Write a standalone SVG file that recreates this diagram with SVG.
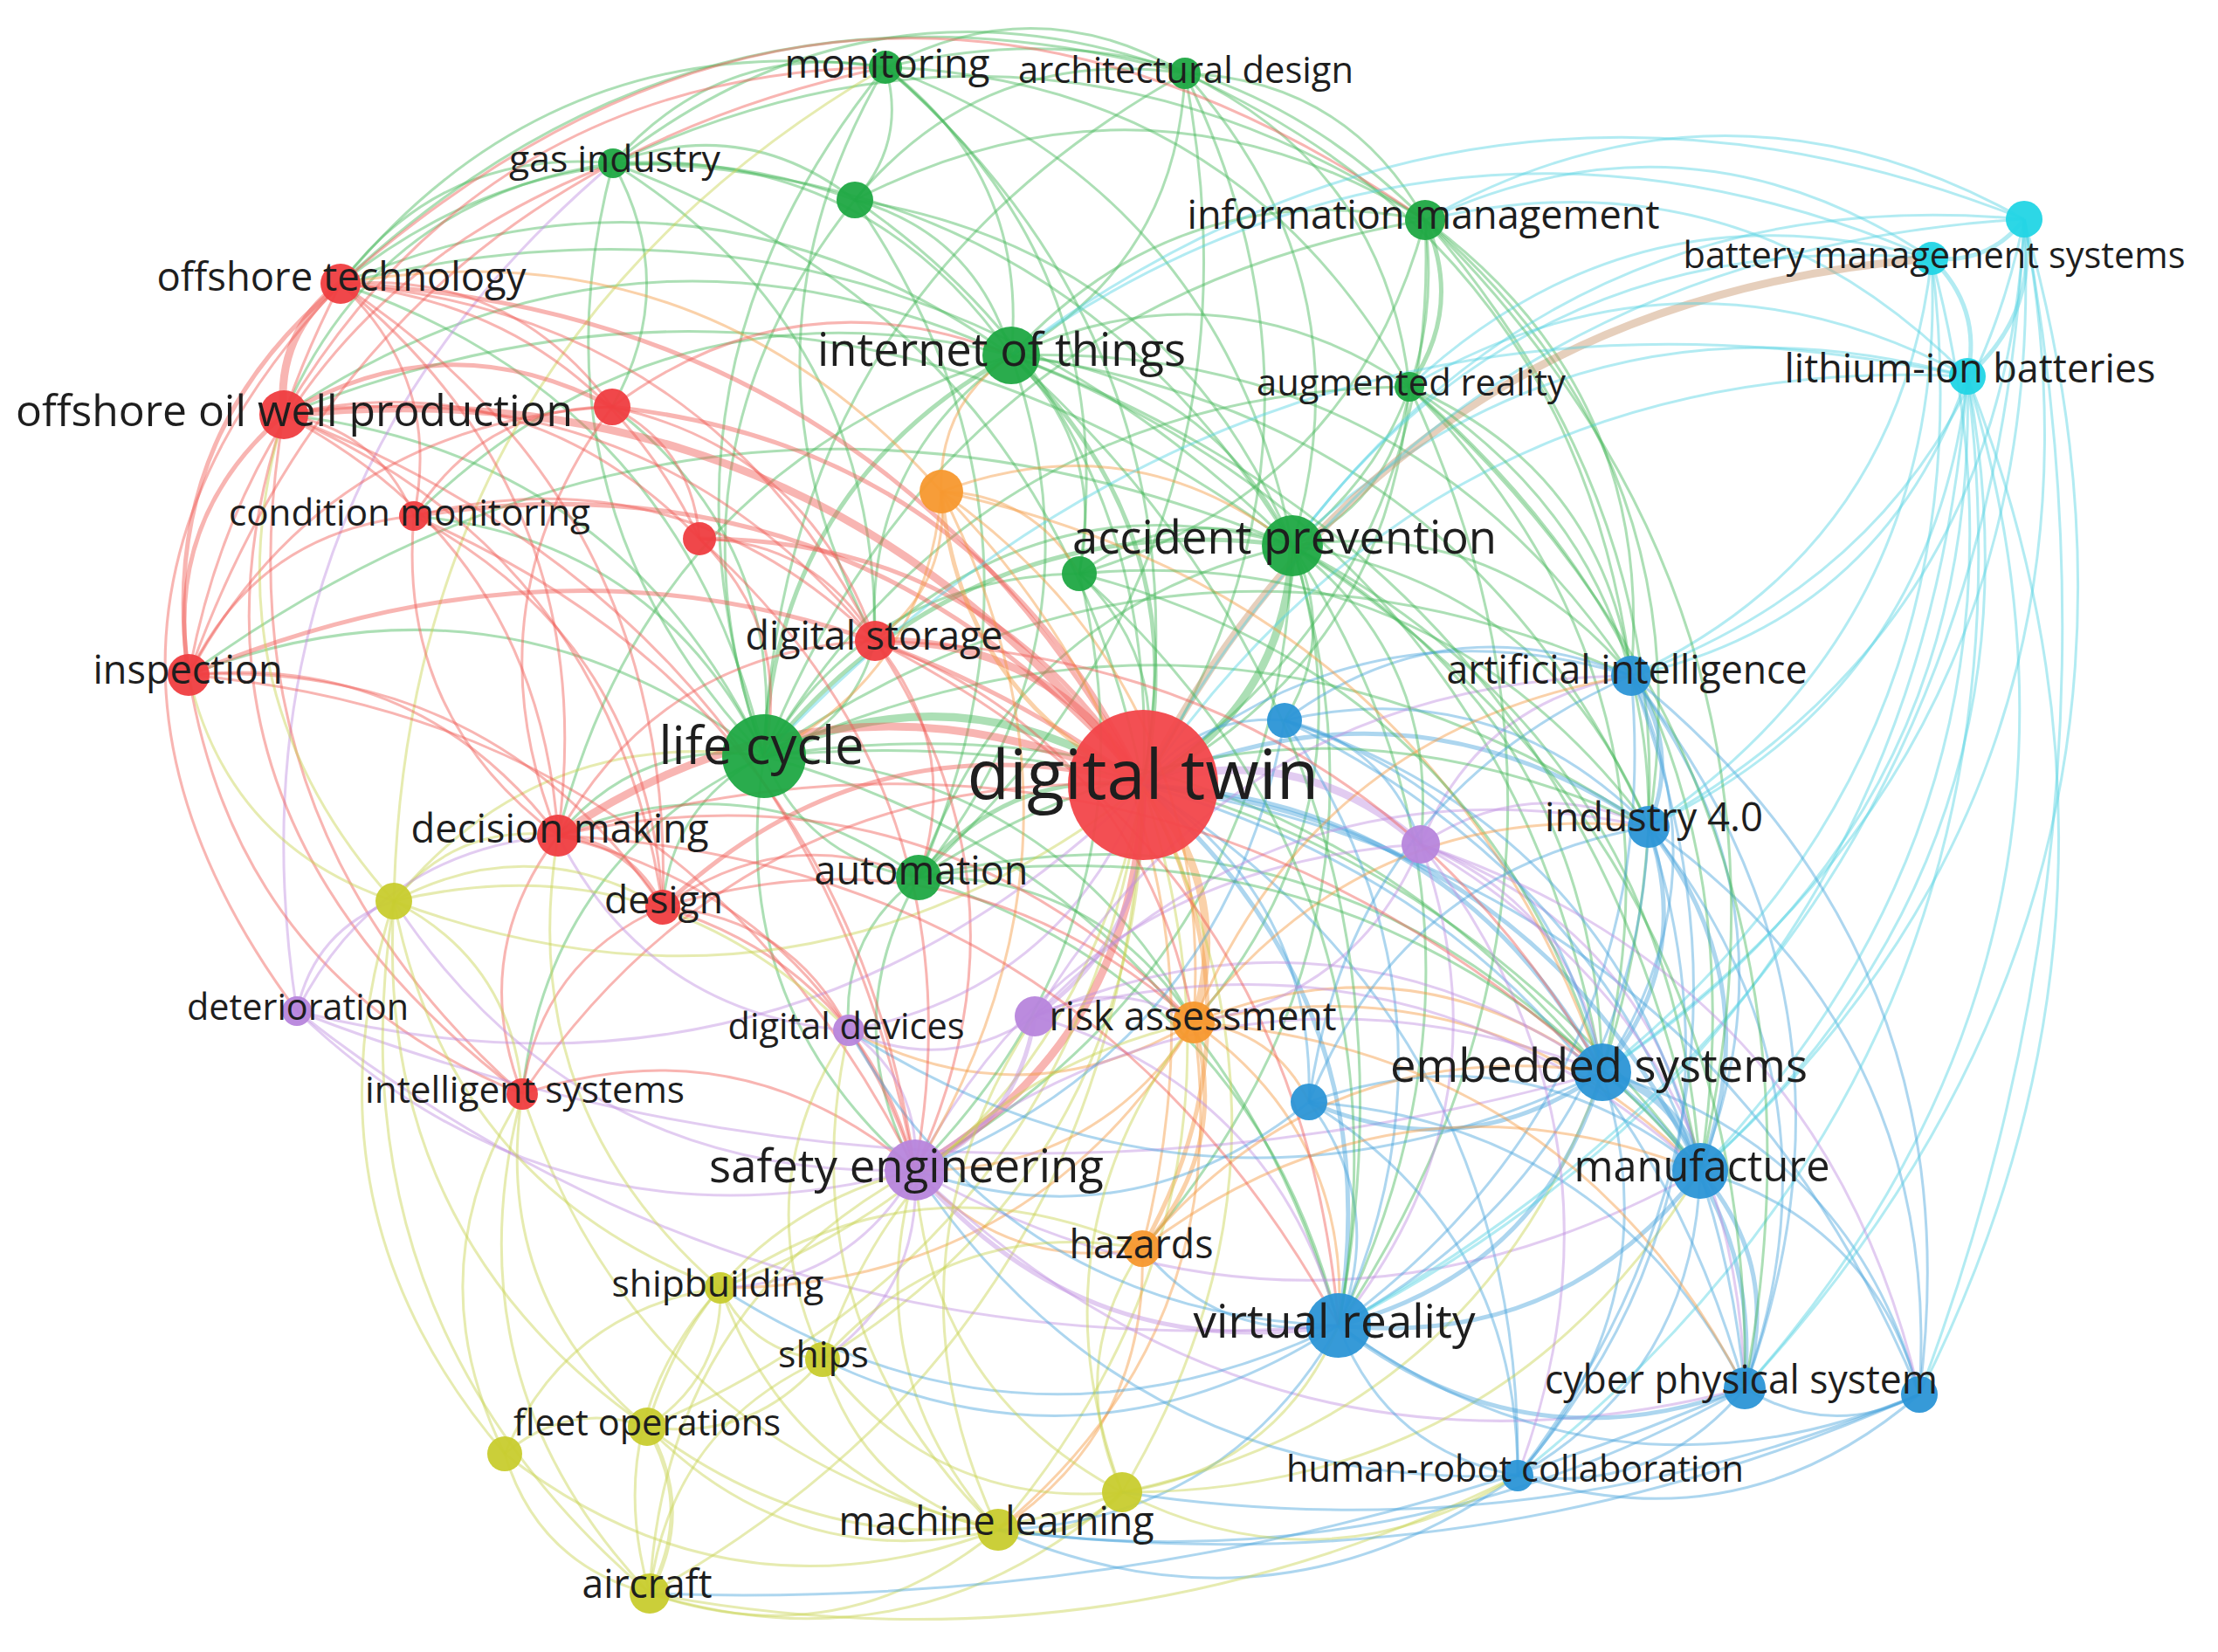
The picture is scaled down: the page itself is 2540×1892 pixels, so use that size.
<svg xmlns="http://www.w3.org/2000/svg" xmlns:xlink="http://www.w3.org/1999/xlink" width="2540" height="1892" viewBox="0 0 2540 1892">
<style>
.r{stroke:#ef5a55}.g{stroke:#46b85c}.b{stroke:#4aa3dc}.y{stroke:#c8d250}.p{stroke:#bf8fe0}.c{stroke:#55d3e3}.o{stroke:#f49840}.t{stroke:#c8956a}
.k{stroke-width:5}.K{stroke-width:9}
.nr{fill:#ef3d40}.ng{fill:#1fa843}.nb{fill:#2b95d6}.ny{fill:#c8cc2e}.np{fill:#b785dc}.nc{fill:#22d5e5}.no{fill:#f7982e}
circle{fill-opacity:.95}
text{font-family:"Open Sans","Liberation Sans",sans-serif;fill:#1e1e1e;text-anchor:middle}
</style>
<defs><path id="e" d="M0 0Q0.5 -0.28 1 0" fill="none" vector-effect="non-scaling-stroke"/></defs>
<rect width="2540" height="1892" fill="#ffffff"/>
<g id="connectors" fill="none" stroke-width="3" stroke-opacity="0.45">
<use href="#e" class="g" transform="matrix(343 7 -7 343 1014 77)"/>
<use href="#e" class="g" transform="matrix(312 -110 110 312 702 187)"/>
<use href="#e" class="g" transform="matrix(618 175 -175 618 1014 77)"/>
<use href="#e" class="g" transform="matrix(-35 152 -152 -35 1014 77)"/>
<use href="#e" class="g" transform="matrix(144 330 -330 144 1014 77)"/>
<use href="#e" class="g" transform="matrix(466 548 -548 466 1014 77)"/>
<use href="#e" class="g" transform="matrix(600 366 -366 600 1014 77)"/>
<use href="#e" class="g" transform="matrix(139 -789 789 139 875 866)"/>
<use href="#e" class="g" transform="matrix(295 822 -822 295 1014 77)"/>
<use href="#e" class="g" transform="matrix(624 -248 248 624 390 325)"/>
<use href="#e" class="g" transform="matrix(12 -657 657 12 1002 734)"/>
<use href="#e" class="g" transform="matrix(222 580 -580 222 1014 77)"/>
<use href="#e" class="g" transform="matrix(275 168 -168 275 1357 84)"/>
<use href="#e" class="g" transform="matrix(123 541 -541 123 1357 84)"/>
<use href="#e" class="g" transform="matrix(-199 323 -323 -199 1357 84)"/>
<use href="#e" class="g" transform="matrix(-48 815 -815 -48 1357 84)"/>
<use href="#e" class="g" transform="matrix(482 -782 782 482 875 866)"/>
<use href="#e" class="g" transform="matrix(257 359 -359 257 1357 84)"/>
<use href="#e" class="g" transform="matrix(378 -145 145 378 979 229)"/>
<use href="#e" class="g" transform="matrix(-305 921 -921 -305 1357 84)"/>
<use href="#e" class="g" transform="matrix(511 690 -690 511 1357 84)"/>
<use href="#e" class="g" transform="matrix(456 220 -220 456 702 187)"/>
<use href="#e" class="g" transform="matrix(277 42 -42 277 702 187)"/>
<use href="#e" class="g" transform="matrix(930 65 -65 930 702 187)"/>
<use href="#e" class="g" transform="matrix(778 438 -438 778 702 187)"/>
<use href="#e" class="g" transform="matrix(-173 -679 679 -173 875 866)"/>
<use href="#e" class="g" transform="matrix(607 712 -712 607 702 187)"/>
<use href="#e" class="g" transform="matrix(377 -288 288 377 325 475)"/>
<use href="#e" class="g" transform="matrix(312 -138 138 312 390 325)"/>
<use href="#e" class="g" transform="matrix(-1 279 -279 -1 702 187)"/>
<use href="#e" class="g" transform="matrix(300 547 -547 300 702 187)"/>
<use href="#e" class="g" transform="matrix(179 178 -178 179 979 229)"/>
<use href="#e" class="g" transform="matrix(653 23 -23 653 979 229)"/>
<use href="#e" class="g" transform="matrix(501 396 -396 501 979 229)"/>
<use href="#e" class="g" transform="matrix(330 670 -670 330 979 229)"/>
<use href="#e" class="g" transform="matrix(104 -637 637 104 875 866)"/>
<use href="#e" class="g" transform="matrix(73 776 -776 73 979 229)"/>
<use href="#e" class="g" transform="matrix(589 -96 96 589 390 325)"/>
<use href="#e" class="g" transform="matrix(474 -155 155 474 1158 407)"/>
<use href="#e" class="g" transform="matrix(322 218 -218 322 1158 407)"/>
<use href="#e" class="g" transform="matrix(456 36 -36 456 1158 407)"/>
<use href="#e" class="g k" transform="matrix(283 -459 459 283 875 866)"/>
<use href="#e" class="g k" transform="matrix(151 492 -492 151 1158 407)"/>
<use href="#e" class="g" transform="matrix(-106 598 -598 -106 1158 407)"/>
<use href="#e" class="g" transform="matrix(78 250 -250 78 1158 407)"/>
<use href="#e" class="g" transform="matrix(768 82 -82 768 390 325)"/>
<use href="#e" class="g" transform="matrix(833 -68 68 833 325 475)"/>
<use href="#e" class="g" transform="matrix(156 -327 327 156 1002 734)"/>
<use href="#e" class="g" transform="matrix(677 821 -821 677 1158 407)"/>
<use href="#e" class="g" transform="matrix(730 540 -540 730 1158 407)"/>
<use href="#e" class="g" transform="matrix(710 367 -367 710 1158 407)"/>
<use href="#e" class="g" transform="matrix(684 -184 184 684 474 591)"/>
<use href="#e" class="g" transform="matrix(519 -550 550 519 639 957)"/>
<use href="#e" class="g k" transform="matrix(-18 191 -191 -18 1632 252)"/>
<use href="#e" class="g" transform="matrix(-152 373 -373 -152 1632 252)"/>
<use href="#e" class="g" transform="matrix(-323 647 -647 -323 1632 252)"/>
<use href="#e" class="g" transform="matrix(757 -614 614 757 875 866)"/>
<use href="#e" class="c" transform="matrix(580 44 -44 580 1632 252)"/>
<use href="#e" class="c" transform="matrix(621 179 -179 621 1632 252)"/>
<use href="#e" class="g" transform="matrix(236 522 -522 236 1632 252)"/>
<use href="#e" class="g" transform="matrix(203 976 -976 203 1632 252)"/>
<use href="#e" class="g" transform="matrix(-396 405 -405 -396 1632 252)"/>
<use href="#e" class="g" transform="matrix(256 695 -695 256 1632 252)"/>
<use href="#e" class="g" transform="matrix(-134 182 -182 -134 1614 443)"/>
<use href="#e" class="g" transform="matrix(-305 456 -456 -305 1614 443)"/>
<use href="#e" class="g" transform="matrix(739 -423 423 739 875 866)"/>
<use href="#e" class="g" transform="matrix(-81 1075 -1075 -81 1614 443)"/>
<use href="#e" class="g" transform="matrix(221 785 -785 221 1614 443)"/>
<use href="#e" class="g" transform="matrix(333 898 -898 333 1614 443)"/>
<use href="#e" class="g" transform="matrix(254 331 -331 254 1614 443)"/>
<use href="#e" class="g K" transform="matrix(-171 274 -274 -171 1480 625)"/>
<use href="#e" class="g k" transform="matrix(605 -241 241 605 875 866)"/>
<use href="#e" class="g" transform="matrix(244 -32 32 244 1236 657)"/>
<use href="#e" class="g" transform="matrix(428 -380 380 428 1052 1005)"/>
<use href="#e" class="g" transform="matrix(-432 715 -715 -432 1480 625)"/>
<use href="#e" class="g" transform="matrix(-113 546 -546 -113 1480 625)"/>
<use href="#e" class="g" transform="matrix(355 603 -603 355 1480 625)"/>
<use href="#e" class="g" transform="matrix(388 149 -149 388 1480 625)"/>
<use href="#e" class="g" transform="matrix(408 322 -322 408 1480 625)"/>
<use href="#e" class="c" transform="matrix(773 -194 194 773 1480 625)"/>
<use href="#e" class="c" transform="matrix(732 -329 329 732 1480 625)"/>
<use href="#e" class="g" transform="matrix(467 716 -716 467 1480 625)"/>
<use href="#e" class="g" transform="matrix(53 893 -893 53 1480 625)"/>
<use href="#e" class="g" transform="matrix(1090 300 -300 1090 390 325)"/>
<use href="#e" class="g" transform="matrix(1155 150 -150 1155 325 475)"/>
<use href="#e" class="g" transform="matrix(478 -109 109 478 1002 734)"/>
<use href="#e" class="g" transform="matrix(1264 -148 148 1264 216 773)"/>
<use href="#e" class="g" transform="matrix(-172 805 -805 -172 1480 625)"/>
<use href="#e" class="g" transform="matrix(73 242 -242 73 1236 657)"/>
<use href="#e" class="g" transform="matrix(361 -209 209 361 875 866)"/>
<use href="#e" class="g k" transform="matrix(257 -106 106 257 1052 1005)"/>
<use href="#e" class="g" transform="matrix(-177 -139 139 -177 1052 1005)"/>
<use href="#e" class="g" transform="matrix(4 -335 335 4 1048 1340)"/>
<use href="#e" class="g" transform="matrix(80 -175 175 80 972 1180)"/>
<use href="#e" class="g" transform="matrix(413 48 -48 413 639 957)"/>
<use href="#e" class="g" transform="matrix(783 223 -223 783 1052 1005)"/>
<use href="#e" class="g" transform="matrix(481 513 -513 481 1052 1005)"/>
<use href="#e" class="g" transform="matrix(315 166 -166 315 1052 1005)"/>
<use href="#e" class="g K" transform="matrix(434 33 -33 434 875 866)"/>
<use href="#e" class="g" transform="matrix(485 541 -541 485 390 325)"/>
<use href="#e" class="g" transform="matrix(550 391 -391 550 325 475)"/>
<use href="#e" class="g" transform="matrix(659 93 -93 659 216 773)"/>
<use href="#e" class="g" transform="matrix(236 -91 91 236 639 957)"/>
<use href="#e" class="g" transform="matrix(116 -173 173 116 759 1039)"/>
<use href="#e" class="g" transform="matrix(-127 132 -132 -127 1002 734)"/>
<use href="#e" class="g" transform="matrix(-173 -474 474 -173 1048 1340)"/>
<use href="#e" class="g" transform="matrix(960 362 -362 960 875 866)"/>
<use href="#e" class="g" transform="matrix(1072 475 -475 1072 875 866)"/>
<use href="#e" class="g" transform="matrix(658 652 -652 658 875 866)"/>
<use href="#e" class="y" transform="matrix(424 -166 166 424 451 1032)"/>
<use href="#e" class="g" transform="matrix(401 275 -275 401 474 591)"/>
<use href="#e" class="g" transform="matrix(174 400 -400 174 701 466)"/>
<use href="#e" class="g" transform="matrix(277 -387 387 277 598 1253)"/>
<use href="#e" class="g" transform="matrix(492 305 -305 492 875 866)"/>
<use href="#e" class="g" transform="matrix(993 -92 92 993 875 866)"/>
<use href="#e" class="g" transform="matrix(1013 81 -81 1013 875 866)"/>
<use href="#e" class="g" transform="matrix(655 -103 103 655 702 187)"/>
<use href="#e" class="g" transform="matrix(967 -241 241 967 390 325)"/>
<use href="#e" class="r" transform="matrix(689 -398 398 689 325 475)"/>
<use href="#e" class="r" transform="matrix(798 -696 696 798 216 773)"/>
<use href="#e" class="r" transform="matrix(486 -586 586 486 216 773)"/>
<use href="#e" class="p" transform="matrix(362 -971 971 362 340 1158)"/>
<use href="#e" class="y" transform="matrix(563 -955 955 563 451 1032)"/>
<use href="#e" class="r" transform="matrix(50 -833 1250 75 340 1158)"/>
<use href="#e" class="r" transform="matrix(-208 -928 1392 -312 598 1253)"/>
<use href="#e" class="r K" transform="matrix(65 -150 150 65 325 475)"/>
<use href="#e" class="r" transform="matrix(311 141 -141 311 390 325)"/>
<use href="#e" class="r" transform="matrix(84 266 -266 84 390 325)"/>
<use href="#e" class="r k" transform="matrix(174 -448 448 174 216 773)"/>
<use href="#e" class="r k" transform="matrix(919 574 -574 919 390 325)"/>
<use href="#e" class="r" transform="matrix(612 409 -409 612 390 325)"/>
<use href="#e" class="r" transform="matrix(249 632 -632 249 390 325)"/>
<use href="#e" class="r" transform="matrix(411 292 -292 411 390 325)"/>
<use href="#e" class="r" transform="matrix(1242 -73 102 1739 390 325)"/>
<use href="#e" class="r" transform="matrix(369 714 -714 369 390 325)"/>
<use href="#e" class="r k" transform="matrix(376 -9 9 376 325 475)"/>
<use href="#e" class="r" transform="matrix(149 116 -116 149 325 475)"/>
<use href="#e" class="r k" transform="matrix(109 -298 298 109 216 773)"/>
<use href="#e" class="r K" transform="matrix(984 424 -424 984 325 475)"/>
<use href="#e" class="r" transform="matrix(677 259 -259 677 325 475)"/>
<use href="#e" class="r" transform="matrix(314 482 -482 314 325 475)"/>
<use href="#e" class="r" transform="matrix(476 142 -142 476 325 475)"/>
<use href="#e" class="r" transform="matrix(434 564 -564 434 325 475)"/>
<use href="#e" class="r" transform="matrix(-273 -778 778 -273 598 1253)"/>
<use href="#e" class="r" transform="matrix(723 865 -865 723 325 475)"/>
<use href="#e" class="r k" transform="matrix(608 433 -433 608 701 466)"/>
<use href="#e" class="r" transform="matrix(301 268 -268 301 701 466)"/>
<use href="#e" class="r" transform="matrix(227 -125 125 227 474 591)"/>
<use href="#e" class="r" transform="matrix(100 151 -151 100 701 466)"/>
<use href="#e" class="r" transform="matrix(62 -491 491 62 639 957)"/>
<use href="#e" class="r" transform="matrix(485 -307 307 485 216 773)"/>
<use href="#e" class="r k" transform="matrix(835 308 -308 835 474 591)"/>
<use href="#e" class="r" transform="matrix(258 -182 182 258 216 773)"/>
<use href="#e" class="r" transform="matrix(-165 -366 366 -165 639 957)"/>
<use href="#e" class="r" transform="matrix(528 143 -143 528 474 591)"/>
<use href="#e" class="r" transform="matrix(285 448 -448 285 474 591)"/>
<use href="#e" class="r k" transform="matrix(508 282 -282 508 801 617)"/>
<use href="#e" class="r" transform="matrix(201 117 -117 201 801 617)"/>
<use href="#e" class="r K" transform="matrix(307 165 -165 307 1002 734)"/>
<use href="#e" class="r" transform="matrix(363 -223 223 363 639 957)"/>
<use href="#e" class="r" transform="matrix(46 606 -606 46 1002 734)"/>
<use href="#e" class="r k" transform="matrix(1093 126 -126 1093 216 773)"/>
<use href="#e" class="r" transform="matrix(423 184 -184 423 216 773)"/>
<use href="#e" class="r" transform="matrix(543 266 -266 543 216 773)"/>
<use href="#e" class="r" transform="matrix(-382 -480 480 -382 598 1253)"/>
<use href="#e" class="y" transform="matrix(-235 -259 259 -235 451 1032)"/>
<use href="#e" class="r" transform="matrix(832 567 -567 832 216 773)"/>
<use href="#e" class="r K" transform="matrix(670 -58 58 670 639 957)"/>
<use href="#e" class="r k" transform="matrix(120 82 -82 120 639 957)"/>
<use href="#e" class="r" transform="matrix(41 -296 296 41 598 1253)"/>
<use href="#e" class="r" transform="matrix(409 383 -383 409 639 957)"/>
<use href="#e" class="y" transform="matrix(188 -75 75 188 451 1032)"/>
<use href="#e" class="r" transform="matrix(728 214 -214 728 639 957)"/>
<use href="#e" class="r k" transform="matrix(550 -140 140 550 759 1039)"/>
<use href="#e" class="r" transform="matrix(289 301 -301 289 759 1039)"/>
<use href="#e" class="r" transform="matrix(161 -214 214 161 598 1253)"/>
<use href="#e" class="r" transform="matrix(711 -354 354 711 598 1253)"/>
<use href="#e" class="r" transform="matrix(450 87 -87 450 598 1253)"/>
<use href="#e" class="y" transform="matrix(-146 -572 572 -146 744 1825)"/>
<use href="#e" class="y" transform="matrix(-143 -381 381 -143 741 1634)"/>
<use href="#e" class="y" transform="matrix(-545 -499 499 -545 1143 1752)"/>
<use href="#e" class="o k" transform="matrix(-231 -336 336 -231 1309 899)"/>
<use href="#e" class="o K" transform="matrix(58 272 -272 58 1309 899)"/>
<use href="#e" class="o k" transform="matrix(-1 531 -531 -1 1309 899)"/>
<use href="#e" class="r K" transform="matrix(-261 441 -441 -261 1309 899)"/>
<use href="#e" class="p k" transform="matrix(-124 265 -265 -124 1309 899)"/>
<use href="#e" class="p" transform="matrix(-337 281 -281 -337 1309 899)"/>
<use href="#e" class="b k" transform="matrix(224 619 -619 224 1309 899)"/>
<use href="#e" class="b k" transform="matrix(526 329 -329 526 1309 899)"/>
<use href="#e" class="b k" transform="matrix(638 442 -442 638 1309 899)"/>
<use href="#e" class="b k" transform="matrix(579 48 -48 579 1309 899)"/>
<use href="#e" class="b" transform="matrix(559 -125 125 559 1309 899)"/>
<use href="#e" class="b" transform="matrix(162 -74 74 162 1309 899)"/>
<use href="#e" class="b" transform="matrix(190 363 -363 190 1309 899)"/>
<use href="#e" class="p K" transform="matrix(318 68 -68 318 1309 899)"/>
<use href="#e" class="b" transform="matrix(689 691 -691 689 1309 899)"/>
<use href="#e" class="b" transform="matrix(429 791 -791 429 1309 899)"/>
<use href="#e" class="y" transform="matrix(-166 853 -853 -166 1309 899)"/>
<use href="#e" class="y" transform="matrix(-24 810 -810 -24 1309 899)"/>
<use href="#e" class="y" transform="matrix(-565 926 -926 -565 1309 899)"/>
<use href="#e" class="y" transform="matrix(-484 576 -576 -484 1309 899)"/>
<use href="#e" class="y" transform="matrix(-367 658 -658 -367 1309 899)"/>
<use href="#e" class="y" transform="matrix(-568 735 -735 -568 1309 899)"/>
<use href="#e" class="y" transform="matrix(-858 133 -133 -858 1309 899)"/>
<use href="#e" class="p" transform="matrix(-969 259 -259 -969 1309 899)"/>
<use href="#e" class="c" transform="matrix(944 -468 468 944 1309 899)"/>
<use href="#e" class="t K" transform="matrix(903 -603 603 903 1309 899)"/>
<use href="#e" class="b" transform="matrix(889 698 -698 889 1309 899)"/>
<use href="#e" class="c" transform="matrix(1009 -648 648 1009 1309 899)"/>
<use href="#e" class="o" transform="matrix(-203 303 -303 -203 1078 563)"/>
<use href="#e" class="o" transform="matrix(80 -156 156 80 1078 563)"/>
<use href="#e" class="o" transform="matrix(402 62 -62 402 1078 563)"/>
<use href="#e" class="o" transform="matrix(289 608 -608 289 1078 563)"/>
<use href="#e" class="o" transform="matrix(230 867 -867 230 1078 563)"/>
<use href="#e" class="o" transform="matrix(-76 171 -171 -76 1078 563)"/>
<use href="#e" class="o" transform="matrix(688 238 -238 688 390 325)"/>
<use href="#e" class="o k" transform="matrix(-59 259 -259 -59 1367 1171)"/>
<use href="#e" class="o" transform="matrix(-319 169 -169 -319 1367 1171)"/>
<use href="#e" class="o" transform="matrix(166 347 -347 166 1367 1171)"/>
<use href="#e" class="o" transform="matrix(468 57 -57 468 1367 1171)"/>
<use href="#e" class="o" transform="matrix(132 91 -91 132 1367 1171)"/>
<use href="#e" class="p" transform="matrix(182 7 -7 182 1185 1164)"/>
<use href="#e" class="o" transform="matrix(-224 581 -581 -224 1367 1171)"/>
<use href="#e" class="o" transform="matrix(580 170 -170 580 1367 1171)"/>
<use href="#e" class="o" transform="matrix(-260 -90 90 -260 1308 1430)"/>
<use href="#e" class="b" transform="matrix(-225 -88 88 -225 1533 1518)"/>
<use href="#e" class="o" transform="matrix(-165 322 -322 -165 1308 1430)"/>
<use href="#e" class="y" transform="matrix(23 -279 279 23 1285 1709)"/>
<use href="#e" class="o" transform="matrix(-542 304 -304 -542 1367 1171)"/>
<use href="#e" class="o" transform="matrix(-395 9 -9 -395 1367 1171)"/>
<use href="#e" class="p k" transform="matrix(-137 176 -176 -137 1185 1164)"/>
<use href="#e" class="p" transform="matrix(-213 16 -16 -213 1185 1164)"/>
<use href="#e" class="p" transform="matrix(650 64 -64 650 1185 1164)"/>
<use href="#e" class="p" transform="matrix(348 354 -354 348 1185 1164)"/>
<use href="#e" class="p" transform="matrix(76 160 -160 76 972 1180)"/>
<use href="#e" class="p" transform="matrix(111 -126 126 111 340 1158)"/>
<use href="#e" class="p" transform="matrix(-708 -182 182 -708 1048 1340)"/>
<use href="#e" class="p" transform="matrix(-1495 -70 42 -897 1835 1228)"/>
<use href="#e" class="p" transform="matrix(-1193 -360 252 -835 1533 1518)"/>
<use href="#e" class="p" transform="matrix(299 -201 201 299 340 1158)"/>
<use href="#e" class="p" transform="matrix(261 -20 20 261 1627 967)"/>
<use href="#e" class="p" transform="matrix(208 261 -261 208 1627 967)"/>
<use href="#e" class="p" transform="matrix(241 -193 193 241 1627 967)"/>
<use href="#e" class="p" transform="matrix(320 374 -374 320 1627 967)"/>
<use href="#e" class="p" transform="matrix(579 -373 373 579 1048 1340)"/>
<use href="#e" class="p" transform="matrix(-94 551 -551 -94 1627 967)"/>
<use href="#e" class="p k" transform="matrix(-485 -178 178 -485 1533 1518)"/>
<use href="#e" class="p" transform="matrix(787 -112 112 787 1048 1340)"/>
<use href="#e" class="p" transform="matrix(-899 -1 1 -899 1947 1341)"/>
<use href="#e" class="y" transform="matrix(-95 -412 412 -95 1143 1752)"/>
<use href="#e" class="p" transform="matrix(-223 135 -135 -223 1048 1340)"/>
<use href="#e" class="p" transform="matrix(-106 217 -217 -106 1048 1340)"/>
<use href="#e" class="p" transform="matrix(-950 -250 250 -950 1998 1590)"/>
<use href="#e" class="p" transform="matrix(-597 -308 308 -597 1048 1340)"/>
<use href="#e" class="p" transform="matrix(-333 -223 223 -333 972 1180)"/>
<use href="#e" class="y" transform="matrix(-126 -557 557 -126 451 1032)"/>
<use href="#e" class="y" transform="matrix(-374 -443 443 -374 825 1475)"/>
<use href="#e" class="y" transform="matrix(-293 -793 793 -293 744 1825)"/>
<use href="#e" class="y" transform="matrix(-290 -602 602 -290 741 1634)"/>
<use href="#e" class="y" transform="matrix(-117 -82 82 -117 942 1557)"/>
<use href="#e" class="y" transform="matrix(-84 159 -159 -84 825 1475)"/>
<use href="#e" class="y" transform="matrix(81 -350 350 81 744 1825)"/>
<use href="#e" class="y" transform="matrix(-318 -277 277 -318 1143 1752)"/>
<use href="#e" class="y" transform="matrix(247 -190 190 247 578 1665)"/>
<use href="#e" class="y" transform="matrix(-201 77 -77 -201 942 1557)"/>
<use href="#e" class="y" transform="matrix(198 -268 268 198 744 1825)"/>
<use href="#e" class="y" transform="matrix(-201 -195 195 -201 1143 1752)"/>
<use href="#e" class="y" transform="matrix(-343 -152 152 -343 1285 1709)"/>
<use href="#e" class="y k" transform="matrix(3 191 -191 3 741 1634)"/>
<use href="#e" class="y" transform="matrix(163 -31 31 163 578 1665)"/>
<use href="#e" class="y" transform="matrix(-402 -118 118 -402 1143 1752)"/>
<use href="#e" class="y" transform="matrix(-544 -75 75 -544 1285 1709)"/>
<use href="#e" class="y" transform="matrix(-166 -160 160 -166 744 1825)"/>
<use href="#e" class="y" transform="matrix(-565 -87 87 -565 1143 1752)"/>
<use href="#e" class="y" transform="matrix(-399 73 -73 -399 1143 1752)"/>
<use href="#e" class="y" transform="matrix(-541 116 -116 -541 1285 1709)"/>
<use href="#e" class="y k" transform="matrix(-142 43 -43 -142 1285 1709)"/>
<use href="#e" class="b" transform="matrix(-390 234 -234 -390 1533 1518)"/>
<use href="#e" class="b" transform="matrix(-595 62 -62 -595 1738 1690)"/>
<use href="#e" class="b" transform="matrix(-855 162 -97 -513 1998 1590)"/>
<use href="#e" class="y" transform="matrix(-248 191 -191 -248 1533 1518)"/>
<use href="#e" class="y" transform="matrix(-453 19 -19 -453 1738 1690)"/>
<use href="#e" class="y" transform="matrix(-550 481 -481 -550 1835 1228)"/>
<use href="#e" class="y" transform="matrix(-662 368 -368 -662 1947 1341)"/>
<use href="#e" class="y" transform="matrix(-994 135 -81 -596 1738 1690)"/>
<use href="#e" class="y" transform="matrix(-127 -633 633 -127 578 1665)"/>
<use href="#e" class="y" transform="matrix(308 7 -7 308 451 1032)"/>
<use href="#e" class="y" transform="matrix(20 -412 412 20 578 1665)"/>
<use href="#e" class="y" transform="matrix(30 -377 377 30 942 1557)"/>
<use href="#e" class="y" transform="matrix(-186 -518 518 -186 825 1475)"/>
<use href="#e" class="b" transform="matrix(-1055 155 -78 -528 2198 1597)"/>
<use href="#e" class="b" transform="matrix(397 -51 51 397 1471 825)"/>
<use href="#e" class="b" transform="matrix(364 403 -403 364 1471 825)"/>
<use href="#e" class="b" transform="matrix(417 122 -122 417 1471 825)"/>
<use href="#e" class="b" transform="matrix(62 693 -693 62 1471 825)"/>
<use href="#e" class="b" transform="matrix(476 516 -516 476 1471 825)"/>
<use href="#e" class="g" transform="matrix(-9 200 -200 -9 1480 625)"/>
<use href="#e" class="b k" transform="matrix(20 173 -173 20 1868 774)"/>
<use href="#e" class="b" transform="matrix(-33 454 -454 -33 1868 774)"/>
<use href="#e" class="b" transform="matrix(79 567 -567 79 1868 774)"/>
<use href="#e" class="b" transform="matrix(-335 744 -744 -335 1868 774)"/>
<use href="#e" class="b" transform="matrix(130 816 -816 130 1868 774)"/>
<use href="#e" class="c" transform="matrix(-385 343 -343 -385 2253 431)"/>
<use href="#e" class="c" transform="matrix(-344 478 -478 -344 2212 296)"/>
<use href="#e" class="b k" transform="matrix(-53 281 -281 -53 1888 947)"/>
<use href="#e" class="b k" transform="matrix(59 394 -394 59 1888 947)"/>
<use href="#e" class="b" transform="matrix(-355 571 -571 -355 1888 947)"/>
<use href="#e" class="b" transform="matrix(110 643 -643 110 1888 947)"/>
<use href="#e" class="b" transform="matrix(310 650 -650 310 1888 947)"/>
<use href="#e" class="c" transform="matrix(-365 516 -516 -365 2253 431)"/>
<use href="#e" class="b" transform="matrix(-150 743 -743 -150 1888 947)"/>
<use href="#e" class="b K" transform="matrix(112 113 -113 112 1835 1228)"/>
<use href="#e" class="b k" transform="matrix(-302 290 -290 -302 1835 1228)"/>
<use href="#e" class="b k" transform="matrix(163 362 -362 163 1835 1228)"/>
<use href="#e" class="b" transform="matrix(363 369 -369 363 1835 1228)"/>
<use href="#e" class="b" transform="matrix(-97 462 -462 -97 1835 1228)"/>
<use href="#e" class="b k" transform="matrix(-336 34 -34 -336 1835 1228)"/>
<use href="#e" class="c" transform="matrix(-418 797 -797 -418 2253 431)"/>
<use href="#e" class="b" transform="matrix(34 256 -256 34 1499 1262)"/>
<use href="#e" class="b" transform="matrix(448 79 -79 448 1499 1262)"/>
<use href="#e" class="b" transform="matrix(499 328 -328 499 1499 1262)"/>
<use href="#e" class="b" transform="matrix(239 428 -428 239 1499 1262)"/>
<use href="#e" class="b k" transform="matrix(-414 177 -177 -414 1947 1341)"/>
<use href="#e" class="b k" transform="matrix(51 249 -249 51 1947 1341)"/>
<use href="#e" class="b" transform="matrix(251 256 -256 251 1947 1341)"/>
<use href="#e" class="b" transform="matrix(-209 349 -349 -209 1947 1341)"/>
<use href="#e" class="c" transform="matrix(-306 910 -910 -306 2253 431)"/>
<use href="#e" class="b k" transform="matrix(-465 -72 72 -465 1998 1590)"/>
<use href="#e" class="b" transform="matrix(-205 -172 172 -205 1738 1690)"/>
<use href="#e" class="b" transform="matrix(-665 -79 79 -665 2198 1597)"/>
<use href="#e" class="b" transform="matrix(-200 -7 7 -200 2198 1597)"/>
<use href="#e" class="b" transform="matrix(-260 100 -100 -260 1998 1590)"/>
<use href="#e" class="b" transform="matrix(-460 93 -93 -460 2198 1597)"/>
<use href="#e" class="b" transform="matrix(-708 -43 43 -708 1533 1518)"/>
<use href="#e" class="b" transform="matrix(-1254 235 -94 -502 1998 1590)"/>
<use href="#e" class="b" transform="matrix(-913 112 -56 -457 2198 1597)"/>
<use href="#e" class="b" transform="matrix(-690 -350 350 -690 1738 1690)"/>
<use href="#e" class="b" transform="matrix(-561 -338 338 -561 1533 1518)"/>
<use href="#e" class="b" transform="matrix(-863 -48 48 -863 1835 1228)"/>
<use href="#e" class="c k" transform="matrix(-106 45 -45 -106 2318 251)"/>
<use href="#e" class="c k" transform="matrix(41 135 -135 41 2212 296)"/>
<use href="#e" class="c k" transform="matrix(-65 180 -180 -65 2318 251)"/>
<use href="#e" class="c" transform="matrix(-255 1159 -1159 -255 2253 431)"/>
<use href="#e" class="c" transform="matrix(-55 1166 -933 -44 2253 431)"/>
<use href="#e" class="c" transform="matrix(-720 1087 -1087 -720 2253 431)"/>
<use href="#e" class="c" transform="matrix(1160 -156 156 1160 1158 407)"/>
<use href="#e" class="c" transform="matrix(-377 932 -932 -377 2212 296)"/>
<use href="#e" class="c" transform="matrix(-324 651 -651 -324 2212 296)"/>
<use href="#e" class="c" transform="matrix(1054 -111 111 1054 1158 407)"/>
<use href="#e" class="c" transform="matrix(838 -374 374 838 1480 625)"/>
<use href="#e" class="c" transform="matrix(-483 977 -977 -483 2318 251)"/>
<use href="#e" class="c" transform="matrix(-785 1267 -1267 -785 2318 251)"/>
<use href="#e" class="c" transform="matrix(1378 -435 435 1378 875 866)"/>
<use href="#e" class="c" transform="matrix(-120 1346 -673 -60 2318 251)"/>
<use href="#e" class="c" transform="matrix(-515 1259 -1259 -515 2253 431)"/>
<use href="#e" class="c" transform="matrix(686 -1 1 686 1632 252)"/>
<use href="#e" class="c" transform="matrix(639 -12 12 639 1614 443)"/>
<use href="#e" class="c" transform="matrix(598 -147 147 598 1614 443)"/>
<use href="#e" class="o" transform="matrix(158 94 -94 158 1078 563)"/>
<use href="#e" class="o" transform="matrix(-30 777 -777 -30 1078 563)"/>
<use href="#e" class="o" transform="matrix(757 665 -665 757 1078 563)"/>
<use href="#e" class="g" transform="matrix(599 571 -571 599 1236 657)"/>
<use href="#e" class="g" transform="matrix(-188 683 -683 -188 1236 657)"/>
<use href="#e" class="g" transform="matrix(297 861 -861 297 1236 657)"/>
<use href="#e" class="g" transform="matrix(652 290 -290 652 1236 657)"/>
<use href="#e" class="b" transform="matrix(-423 515 -515 -423 1471 825)"/>
<use href="#e" class="b" transform="matrix(527 765 -765 527 1471 825)"/>
<use href="#e" class="b" transform="matrix(156 142 -142 156 1471 825)"/>
<use href="#e" class="p" transform="matrix(371 623 -623 371 1627 967)"/>
<use href="#e" class="p" transform="matrix(571 630 -630 571 1627 967)"/>
<use href="#e" class="p" transform="matrix(-260 204 -204 -260 1627 967)"/>
<use href="#e" class="p" transform="matrix(111 723 -723 111 1627 967)"/>
<use href="#e" class="p" transform="matrix(762 177 -177 762 1185 1164)"/>
<use href="#e" class="p" transform="matrix(703 -217 217 703 1185 1164)"/>
<use href="#e" class="p" transform="matrix(683 -390 390 683 1185 1164)"/>
<use href="#e" class="o" transform="matrix(521 -224 224 521 1367 1171)"/>
<use href="#e" class="o" transform="matrix(631 419 -419 631 1367 1171)"/>
<use href="#e" class="o" transform="matrix(501 -397 397 501 1367 1171)"/>
<use href="#e" class="o" transform="matrix(527 -202 202 527 1308 1430)"/>
<use href="#e" class="o" transform="matrix(639 -89 89 639 1308 1430)"/>
<use href="#e" class="b" transform="matrix(-451 78 -78 -451 1499 1262)"/>
<use href="#e" class="b" transform="matrix(389 -315 315 389 1499 1262)"/>
<use href="#e" class="b" transform="matrix(369 -488 488 369 1499 1262)"/>
<use href="#e" class="g" transform="matrix(895 336 -336 895 1052 1005)"/>
<use href="#e" class="g" transform="matrix(836 -58 58 836 1052 1005)"/>
<use href="#e" class="r" transform="matrix(50 271 -271 50 1002 734)"/>
<use href="#e" class="r" transform="matrix(833 494 -494 833 1002 734)"/>
<use href="#e" class="r" transform="matrix(531 784 -784 531 1002 734)"/>
<use href="#e" class="r" transform="matrix(365 437 -437 365 1002 734)"/>
<use href="#e" class="r" transform="matrix(74 249 -249 74 801 617)"/>
<use href="#e" class="r" transform="matrix(247 723 -723 247 801 617)"/>
<use href="#e" class="r" transform="matrix(457 -59 59 457 701 466)"/>
<use href="#e" class="r" transform="matrix(574 749 -749 574 474 591)"/>
<use href="#e" class="r" transform="matrix(894 561 -561 894 639 957)"/>
<use href="#e" class="r" transform="matrix(1196 271 -271 1196 639 957)"/>
<use href="#e" class="r" transform="matrix(608 132 -132 608 759 1039)"/>
<use href="#e" class="r" transform="matrix(293 -34 34 293 759 1039)"/>
<use href="#e" class="r" transform="matrix(213 141 -141 213 759 1039)"/>
<use href="#e" class="y" transform="matrix(521 148 -148 521 451 1032)"/>
<use href="#e" class="y" transform="matrix(147 221 -221 147 451 1032)"/>
<use href="#e" class="y" transform="matrix(483 -45 45 483 825 1475)"/>
<use href="#e" class="b" transform="matrix(-591 39 -39 -591 1533 1518)"/>
<use href="#e" class="y" transform="matrix(366 -127 127 366 942 1557)"/>
<use href="#e" class="y" transform="matrix(425 -386 386 425 942 1557)"/>
<use href="#e" class="y" transform="matrix(307 -294 294 307 741 1634)"/>
<use href="#e" class="y" transform="matrix(304 -485 485 304 744 1825)"/>
<use href="#e" class="y" transform="matrix(-171 -572 572 -171 1143 1752)"/>
<use href="#e" class="y" transform="matrix(-237 -369 369 -237 1285 1709)"/>
<use href="#e" class="y" transform="matrix(82 -538 538 82 1285 1709)"/>
<use href="#e" class="y" transform="matrix(42 -588 588 42 1143 1752)"/>
<use href="#e" class="g" transform="matrix(375 1111 -1111 375 1158 407)"/>
<use href="#e" class="g" transform="matrix(789 934 -934 789 1158 407)"/>
<use href="#e" class="g" transform="matrix(518 965 -965 518 1480 625)"/>
<use href="#e" class="g" transform="matrix(147 342 -342 147 1480 625)"/>
<use href="#e" class="g" transform="matrix(315 1089 -1089 315 1632 252)"/>
<use href="#e" class="g" transform="matrix(274 504 -504 274 1614 443)"/>
<use href="#e" class="g" transform="matrix(384 1147 -1147 384 1614 443)"/>
<use href="#e" class="b" transform="matrix(-130 916 -916 -130 1868 774)"/>
<use href="#e" class="b" transform="matrix(330 823 -823 330 1868 774)"/>
<use href="#e" class="c" transform="matrix(-265 1045 -1045 -265 2212 296)"/>
<use href="#e" class="c" transform="matrix(-371 1090 -1090 -371 2318 251)"/>
<use href="#e" class="c" transform="matrix(-320 1339 -1339 -320 2318 251)"/>
<use href="#e" class="c" transform="matrix(-450 523 -523 -450 2318 251)"/>
<use href="#e" class="c" transform="matrix(-430 696 -696 -430 2318 251)"/>
</g>
<g id="nodes">
<g id="n-green-1"><circle class="ng" cx="979" cy="229" r="21"/></g>
<g id="n-green-2"><circle class="ng" cx="1236" cy="657" r="20"/></g>
<g id="n-red-1"><circle class="nr" cx="701" cy="466" r="21"/></g>
<g id="n-red-2"><circle class="nr" cx="801" cy="617" r="19"/></g>
<g id="n-orange-1"><circle class="no" cx="1078" cy="563" r="25"/></g>
<g id="n-yellow-1"><circle class="ny" cx="451" cy="1032" r="21"/></g>
<g id="n-purple-1"><circle class="np" cx="1185" cy="1164" r="23"/></g>
<g id="n-purple-2"><circle class="np" cx="1627" cy="967" r="22"/></g>
<g id="n-blue-1"><circle class="nb" cx="1471" cy="825" r="20"/></g>
<g id="n-blue-2"><circle class="nb" cx="1499" cy="1262" r="21"/></g>
<g id="n-blue-3"><circle class="nb" cx="2198" cy="1597" r="21"/></g>
<g id="n-yellow-2"><circle class="ny" cx="578" cy="1665" r="20"/></g>
<g id="n-yellow-3"><circle class="ny" cx="1285" cy="1709" r="23"/></g>
<g id="n-cyan-1"><circle class="nc" cx="2318" cy="251" r="21"/></g>
<g id="n-monitoring"><circle class="ng" cx="1014" cy="77" r="19"/><text x="1016" y="89" font-size="45" textLength="235" lengthAdjust="spacingAndGlyphs">monitoring</text></g>
<g id="n-architectural-design"><circle class="ng" cx="1357" cy="84" r="18"/><text x="1358" y="95" font-size="42" textLength="384" lengthAdjust="spacingAndGlyphs">architectural design</text></g>
<g id="n-gas-industry"><circle class="ng" cx="702" cy="187" r="17"/><text x="704" y="197" font-size="42" textLength="242" lengthAdjust="spacingAndGlyphs">gas industry</text></g>
<g id="n-information-management"><circle class="ng" cx="1632" cy="252" r="23"/><text x="1630" y="262" font-size="45" textLength="541" lengthAdjust="spacingAndGlyphs">information management</text></g>
<g id="n-battery-management-systems"><circle class="nc" cx="2212" cy="296" r="19"/><text x="2215" y="307" font-size="42" textLength="575" lengthAdjust="spacingAndGlyphs">battery management systems</text></g>
<g id="n-offshore-technology"><circle class="nr" cx="390" cy="325" r="23"/><text x="391" y="333" font-size="45" textLength="423" lengthAdjust="spacingAndGlyphs">offshore technology</text></g>
<g id="n-internet-of-things"><circle class="ng" cx="1158" cy="407" r="33"/><text x="1147" y="419" font-size="53" textLength="422" lengthAdjust="spacingAndGlyphs">internet of things</text></g>
<g id="n-lithium-ion-batteries"><circle class="nc" cx="2253" cy="431" r="21"/><text x="2256" y="438" font-size="45" textLength="425" lengthAdjust="spacingAndGlyphs">lithium-ion batteries</text></g>
<g id="n-augmented-reality"><circle class="ng" cx="1614" cy="443" r="17"/><text x="1616" y="453" font-size="42" textLength="354" lengthAdjust="spacingAndGlyphs">augmented reality</text></g>
<g id="n-offshore-oil-well-production"><circle class="nr" cx="325" cy="475" r="28"/><text x="337" y="488" font-size="50" textLength="638" lengthAdjust="spacingAndGlyphs">offshore oil well production</text></g>
<g id="n-condition-monitoring"><circle class="nr" cx="474" cy="591" r="17"/><text x="469" y="602" font-size="42" textLength="414" lengthAdjust="spacingAndGlyphs">condition monitoring</text></g>
<g id="n-accident-prevention"><circle class="ng" cx="1480" cy="625" r="35"/><text x="1471" y="634" font-size="53" textLength="486" lengthAdjust="spacingAndGlyphs">accident prevention</text></g>
<g id="n-digital-storage"><circle class="nr" cx="1002" cy="734" r="23"/><text x="1001" y="744" font-size="45" textLength="295" lengthAdjust="spacingAndGlyphs">digital storage</text></g>
<g id="n-inspection"><circle class="nr" cx="216" cy="773" r="24"/><text x="215" y="783" font-size="45" textLength="217" lengthAdjust="spacingAndGlyphs">inspection</text></g>
<g id="n-artificial-intelligence"><circle class="nb" cx="1868" cy="774" r="23"/><text x="1863" y="783" font-size="45" textLength="413" lengthAdjust="spacingAndGlyphs">artificial intelligence</text></g>
<g id="n-life-cycle"><circle class="ng" cx="875" cy="866" r="48"/><text x="872" y="875" font-size="60" textLength="235" lengthAdjust="spacingAndGlyphs">life cycle</text></g>
<g id="n-digital-twin"><circle fill="#f2464a" cx="1309" cy="899" r="86"/><text x="1309" y="915" font-size="78" textLength="403" lengthAdjust="spacingAndGlyphs">digital twin</text></g>
<g id="n-industry-4-0"><circle class="nb" cx="1888" cy="947" r="24"/><text x="1894" y="952" font-size="45" textLength="250" lengthAdjust="spacingAndGlyphs">industry 4.0</text></g>
<g id="n-decision-making"><circle class="nr" cx="639" cy="957" r="24"/><text x="641" y="965" font-size="45" textLength="341" lengthAdjust="spacingAndGlyphs">decision making</text></g>
<g id="n-automation"><circle class="ng" cx="1052" cy="1005" r="26"/><text x="1055" y="1013" font-size="45" textLength="245" lengthAdjust="spacingAndGlyphs">automation</text></g>
<g id="n-design"><circle class="nr" cx="759" cy="1039" r="20"/><text x="760" y="1046" font-size="44" textLength="136" lengthAdjust="spacingAndGlyphs">design</text></g>
<g id="n-deterioration"><circle class="np" cx="340" cy="1158" r="17"/><text x="341" y="1168" font-size="42" textLength="254" lengthAdjust="spacingAndGlyphs">deterioration</text></g>
<g id="n-digital-devices"><circle class="np" cx="972" cy="1180" r="18"/><text x="969" y="1190" font-size="42" textLength="271" lengthAdjust="spacingAndGlyphs">digital devices</text></g>
<g id="n-risk-assessment"><circle class="no" cx="1367" cy="1171" r="24"/><text x="1366" y="1180" font-size="45" textLength="329" lengthAdjust="spacingAndGlyphs">risk assessment</text></g>
<g id="n-embedded-systems"><circle class="nb" cx="1835" cy="1228" r="33"/><text x="1831" y="1239" font-size="53" textLength="478" lengthAdjust="spacingAndGlyphs">embedded systems</text></g>
<g id="n-intelligent-systems"><circle class="nr" cx="598" cy="1253" r="18"/><text x="601" y="1263" font-size="42" textLength="366" lengthAdjust="spacingAndGlyphs">intelligent systems</text></g>
<g id="n-safety-engineering"><circle class="np" cx="1048" cy="1340" r="35"/><text x="1038" y="1354" font-size="53" textLength="452" lengthAdjust="spacingAndGlyphs">safety engineering</text></g>
<g id="n-manufacture"><circle class="nb" cx="1947" cy="1341" r="32"/><text x="1949" y="1353" font-size="49" textLength="293" lengthAdjust="spacingAndGlyphs">manufacture</text></g>
<g id="n-hazards"><circle class="no" cx="1308" cy="1430" r="21"/><text x="1307" y="1441" font-size="45" textLength="165" lengthAdjust="spacingAndGlyphs">hazards</text></g>
<g id="n-shipbuilding"><circle class="ny" cx="825" cy="1475" r="18"/><text x="822" y="1485" font-size="42" textLength="243" lengthAdjust="spacingAndGlyphs">shipbuilding</text></g>
<g id="n-virtual-reality"><circle class="nb" cx="1533" cy="1518" r="37"/><text x="1528" y="1532" font-size="53" textLength="323" lengthAdjust="spacingAndGlyphs">virtual reality</text></g>
<g id="n-ships"><circle class="ny" cx="942" cy="1557" r="20"/><text x="943" y="1566" font-size="42" textLength="104" lengthAdjust="spacingAndGlyphs">ships</text></g>
<g id="n-cyber-physical-system"><circle class="nb" cx="1998" cy="1590" r="24"/><text x="1994" y="1596" font-size="45" textLength="450" lengthAdjust="spacingAndGlyphs">cyber physical system</text></g>
<g id="n-fleet-operations"><circle class="ny" cx="741" cy="1634" r="22"/><text x="741" y="1644" font-size="42" textLength="306" lengthAdjust="spacingAndGlyphs">fleet operations</text></g>
<g id="n-human-robot-collaboration"><circle class="nb" cx="1738" cy="1690" r="18"/><text x="1735" y="1697" font-size="42" textLength="524" lengthAdjust="spacingAndGlyphs">human-robot collaboration</text></g>
<g id="n-machine-learning"><circle class="ny" cx="1143" cy="1752" r="24"/><text x="1141" y="1758" font-size="45" textLength="361" lengthAdjust="spacingAndGlyphs">machine learning</text></g>
<g id="n-aircraft"><circle class="ny" cx="744" cy="1825" r="23"/><text x="741" y="1830" font-size="45" textLength="149" lengthAdjust="spacingAndGlyphs">aircraft</text></g>
</g>
</svg>
